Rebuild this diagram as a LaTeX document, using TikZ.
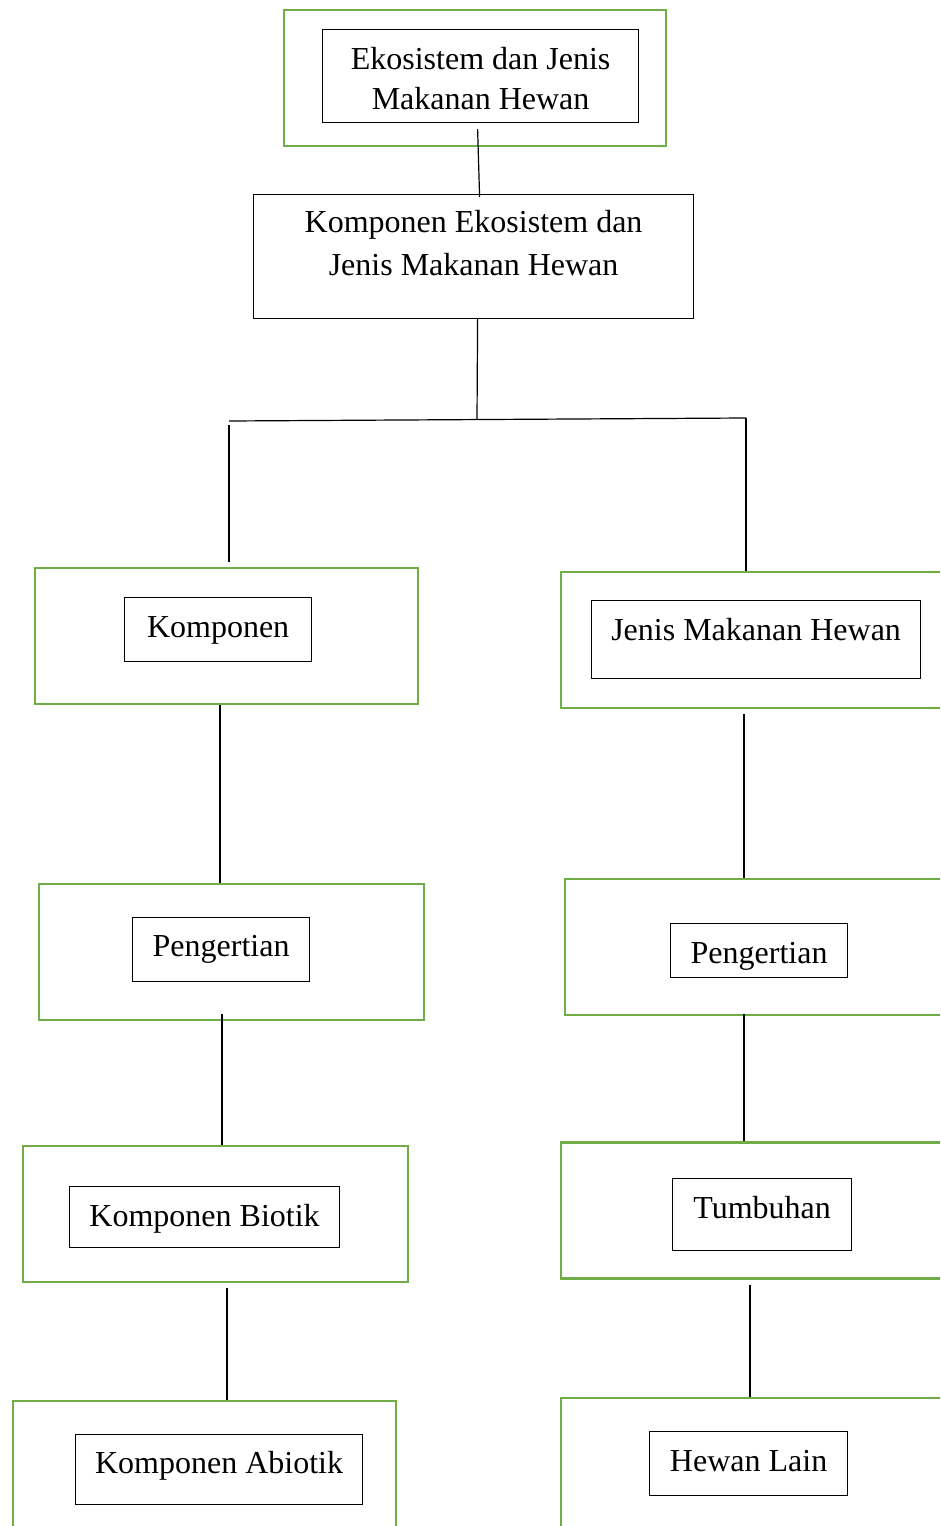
\documentclass[tikz,border=0pt]{standalone}
\usepackage{fontspec}
\setmainfont{Liberation Serif}
\usepackage{tikz}

\definecolor{framegreen}{RGB}{112,173,71}

\tikzset{
  greenframe/.style={draw=framegreen, line width=2.2pt, inner sep=0pt},
  textbox/.style={draw=black, line width=0.9pt, inner xsep=0pt, inner ysep=0pt,
    anchor=north west, align=center, font=\fontsize{24}{30}\selectfont, text height=30pt},
  link/.style={line width=0.9pt},
  linkthick/.style={line width=1.4pt}
}

\begin{document}
\begin{tikzpicture}[x=0.75pt,y=0.75pt,yscale=-1,xscale=1]
          \useasboundingbox (0,0) rectangle (940,1526);
          \clip (0,0) rectangle (940,1526);

          %Shape: Green frames
          \node [greenframe, minimum width=286.5pt, minimum height=102pt] (gTop) at (475,78) {};
          \node [greenframe, minimum width=287.25pt, minimum height=102pt] (gKomp) at (226.5,636) {};
          \node [greenframe, minimum width=287.25pt, minimum height=102pt] (gJenis) at (752.5,640) {};
          \node [greenframe, minimum width=288.75pt, minimum height=102pt] (gPengL) at (231.5,952) {};
          \node [greenframe, minimum width=287.25pt, minimum height=102pt] (gPengR) at (756.5,947) {};
          \node [greenframe, minimum width=288.75pt, minimum height=102pt] (gBiotik) at (215.5,1214) {};
          \node [greenframe, minimum width=287.25pt, minimum height=102pt] (gTumb) at (752.5,1210.5) {};
          \node [greenframe, minimum width=287.25pt, minimum height=102pt] (gAbiotik) at (204.5,1469) {};
          \node [greenframe, minimum width=287.25pt, minimum height=102pt] (gHewan) at (752.5,1466) {};

          % Text Node
          \node [textbox, minimum width=237pt, text height=60pt, text depth=9.75pt] (top) at (322,29) {Ekosistem dan Jenis\\Makanan Hewan};
          % Text Node
          \node [textbox, minimum width=330pt, text height=60.75pt, text depth=32.25pt] (main) at (253,194) {Komponen Ekosistem dan\\[2.25pt]Jenis Makanan Hewan};
          % Text Node
          \node [textbox, minimum width=140.25pt, text depth=18pt] (komp) at (124,597) {Komponen};
          % Text Node
          \node [textbox, minimum width=246.75pt, text depth=28.5pt] (jenis) at (591,600) {Jenis Makanan Hewan};
          % Text Node
          \node [textbox, minimum width=132.75pt, text height=29.5pt, text depth=18.5pt] (pengL) at (132,916.7) {Pengertian};
          % Text Node
          \node [textbox, minimum width=132.75pt, text depth=10.5pt] (pengR) at (670,923) {Pengertian};
          % Text Node
          \node [textbox, minimum width=202.5pt, text depth=15.75pt] (biotik) at (69,1186) {Komponen Biotik};
          % Text Node
          \node [textbox, minimum width=134.25pt, text depth=24pt] (tumb) at (672,1178) {Tumbuhan};
          % Text Node
          \node [textbox, minimum width=215.25pt, text height=29.25pt, text depth=23.25pt] (abiotik) at (75,1434) {Komponen Abiotik};
          % Text Node
          \node [textbox, minimum width=148.5pt, text depth=18pt] (hewan) at (649,1431) {Hewan Lain};

          %Straight Lines: top part
          \coordinate (split) at (477,419.5);
          \coordinate (splitL) at (229,421);
          \coordinate (splitR) at (746,418);
          \draw [link] ([xshift=-2.25pt,yshift=4.5pt]top.south) -- ([xshift=4.5pt,yshift=2.25pt]main.north);
          \draw [link] ([xshift=3pt]main.south) -- (split);
          \draw [link] (splitL) -- (splitR);
          \draw [link] ([yshift=3pt]splitL) -- ([yshift=-3.75pt]splitL |- gKomp.north);
          \draw [link] (splitR) -- (splitR |- gJenis.north);

          %Straight Lines: left column
          \draw [link] ([xshift=-4.9pt]gKomp.south) -- ([xshift=-4.9pt]gKomp.south |- gPengL.north);
          \draw [link] ([xshift=-7.1pt,yshift=-5.25pt]gPengL.south) -- ([xshift=-7.1pt]gPengL.south |- gBiotik.north);
          \draw [link] ([xshift=8.6pt,yshift=3.75pt]gBiotik.south) -- ([xshift=8.6pt]gBiotik.south |- gAbiotik.north);

          %Straight Lines: right column
          \draw [linkthick] ([xshift=-6.4pt,yshift=3.75pt]gJenis.south) -- ([xshift=-6.4pt]gJenis.south |- gPengR.north);
          \draw [linkthick] ([xshift=-9.4pt,yshift=-1.5pt]gPengR.south) -- ([xshift=-9.4pt]gPengR.south |- gTumb.north);
          \draw [link] ([xshift=-1.9pt,yshift=3.75pt]gTumb.south) -- ([xshift=-1.9pt]gTumb.south |- gHewan.north);
\end{tikzpicture}
\end{document}
